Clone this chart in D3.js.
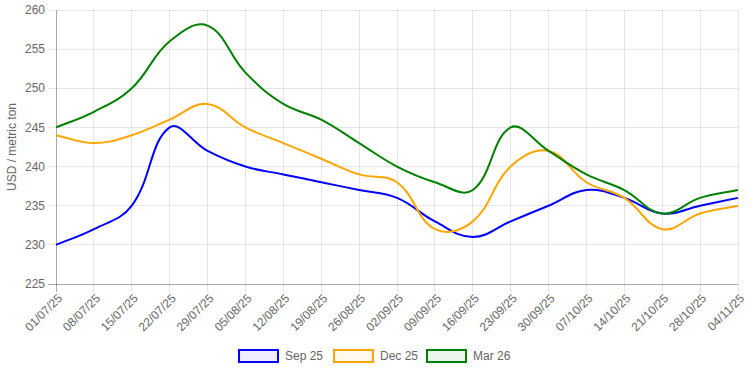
<!DOCTYPE html>
<html>
<head>
<meta charset="utf-8">
<script src="https://cdn.jsdelivr.net/npm/d3@7"></script>
<style>
  body { margin: 0; background: #fff; }
  svg { display: block; font-family: "Liberation Sans", Arial, Helvetica, sans-serif; }
</style>
</head>
<body>
<svg id="chart" width="751" height="375"></svg>
<script>
const dates = ['01/07/25', '08/07/25', '15/07/25', '22/07/25', '29/07/25', '05/08/25', '12/08/25',
    '19/08/25', '26/08/25', '02/09/25', '09/09/25', '16/09/25', '23/09/25', '30/09/25',
    '07/10/25', '14/10/25', '21/10/25', '28/10/25', '04/11/25']
const sep25 = [230, 232, 235, 245, 242, 240, 239, 238, 237, 236, 233, 231, 233, 235, 237, 236, 234, 235, 236]
const dec25 = [244, 243, 244, 246, 248, 245, 243, 241, 239, 238, 232, 233, 240, 242, 238, 236, 232, 234, 235]
const mar26 = [245, 247, 250, 256, 258, 252, 248, 246, 243, 240, 238, 237, 245, 242, 239, 237, 234, 236, 237]
const yTicks = [225, 230, 235, 240, 245, 250, 255, 260]

const series = [
    { name: 'Sep 25', values: sep25, color: 'blue', fill: 'rgba(0,0,255,0.07)' },
    { name: 'Dec 25', values: dec25, color: 'orange', fill: 'rgba(255,165,0,0.07)' },
    { name: 'Mar 26', values: mar26, color: 'green', fill: 'rgba(0,128,0,0.07)' }
]

const area = { left: 56, right: 738, top: 10, bottom: 284 }
const svg = d3.select('#chart')

const x = d3.scalePoint().domain(dates).range([area.left, area.right])
const y = d3.scaleLinear().domain([225, 260]).range([area.bottom, area.top])

// chart.js style spline (tension 0.4)
function chartSpline (context) {
    let pts = []
    return {
        areaStart () {},
        areaEnd () {},
        lineStart () { pts = [] },
        point (px, py) { pts.push({ x: +px, y: +py }) },
        lineEnd () {
            const t = 0.4
            const cap = p => ({
                x: Math.max(area.left, Math.min(area.right, p.x)),
                y: Math.max(area.top, Math.min(area.bottom, p.y))
            })
            const cps = pts.map((cur, i) => {
                const prev = pts[i - 1] || cur
                const next = pts[i + 1] || cur
                const d01 = Math.hypot(cur.x - prev.x, cur.y - prev.y)
                const d12 = Math.hypot(next.x - cur.x, next.y - cur.y)
                let s01 = d01 / (d01 + d12)
                let s12 = d12 / (d01 + d12)
                if (isNaN(s01)) s01 = 0
                if (isNaN(s12)) s12 = 0
                const fa = t * s01, fb = t * s12
                return {
                    prev: cap({ x: cur.x - fa * (next.x - prev.x), y: cur.y - fa * (next.y - prev.y) }),
                    next: cap({ x: cur.x + fb * (next.x - prev.x), y: cur.y + fb * (next.y - prev.y) })
                }
            })
            pts.forEach((p, i) => {
                if (i === 0) context.moveTo(p.x, p.y)
                else context.bezierCurveTo(cps[i - 1].next.x, cps[i - 1].next.y, cps[i].prev.x, cps[i].prev.y, p.x, p.y)
            })
        }
    }
}

// grid
const grid = svg.append('g')
grid.selectAll('.hg').data(yTicks).join('line')
    .attr('x1', area.left - 8).attr('x2', area.right)
    .attr('y1', d => y(d)).attr('y2', d => y(d))
    .attr('stroke', 'rgba(0,0,0,0.1)').attr('shape-rendering', 'crispEdges')
grid.selectAll('.vg').data(dates).join('line')
    .attr('x1', d => x(d)).attr('x2', d => x(d))
    .attr('y1', area.top).attr('y2', area.bottom + 8)
    .attr('stroke', 'rgba(0,0,0,0.1)').attr('shape-rendering', 'crispEdges')

// axis lines
svg.append('line').attr('x1', area.left).attr('x2', area.left).attr('y1', area.top).attr('y2', area.bottom + 8)
    .attr('stroke', 'rgba(0,0,0,0.25)').attr('shape-rendering', 'crispEdges')
svg.append('line').attr('x1', area.left - 8).attr('x2', area.right).attr('y1', area.bottom).attr('y2', area.bottom)
    .attr('stroke', 'rgba(0,0,0,0.25)').attr('shape-rendering', 'crispEdges')

// y labels
svg.append('g').selectAll('text').data(yTicks).join('text')
    .attr('x', area.left - 11).attr('y', d => y(d)).attr('dy', '0.35em')
    .attr('text-anchor', 'end').attr('font-size', 12).attr('fill', '#666')
    .text(d => d)

svg.append('text')
    .attr('transform', `translate(16, ${(area.top + area.bottom) / 2}) rotate(-90)`)
    .attr('text-anchor', 'middle').attr('font-size', 12).attr('fill', '#666')
    .text('USD / metric ton')

// x labels
svg.append('g').selectAll('text').data(dates).join('text')
    .attr('transform', d => `translate(${x(d) + 4}, ${area.bottom + 12}) rotate(-45)`)
    .attr('text-anchor', 'end').attr('font-size', 12).attr('fill', '#666')
    .attr('dy', '0.35em')
    .text(d => d)

// lines
const line = d3.line()
    .x((d, i) => x(dates[i]))
    .y(d => y(d))
    .curve(chartSpline)

svg.append('g').selectAll('path').data(series).join('path')
    .attr('d', d => line(d.values))
    .attr('fill', 'none')
    .attr('stroke', d => d.color)
    .attr('stroke-width', 2)

// legend
const legendX = [239, 334, 427]
const legend = svg.append('g').selectAll('g').data(series).join('g')
    .attr('transform', (d, i) => `translate(${legendX[i]}, 350)`)
legend.append('rect')
    .attr('width', 39).attr('height', 12)
    .attr('fill', d => d.fill).attr('stroke', d => d.color).attr('stroke-width', 2)
legend.append('text')
    .attr('x', 46).attr('y', 6).attr('dy', '0.35em')
    .attr('font-size', 12).attr('fill', '#666')
    .text(d => d.name)
</script>
</body>
</html>
